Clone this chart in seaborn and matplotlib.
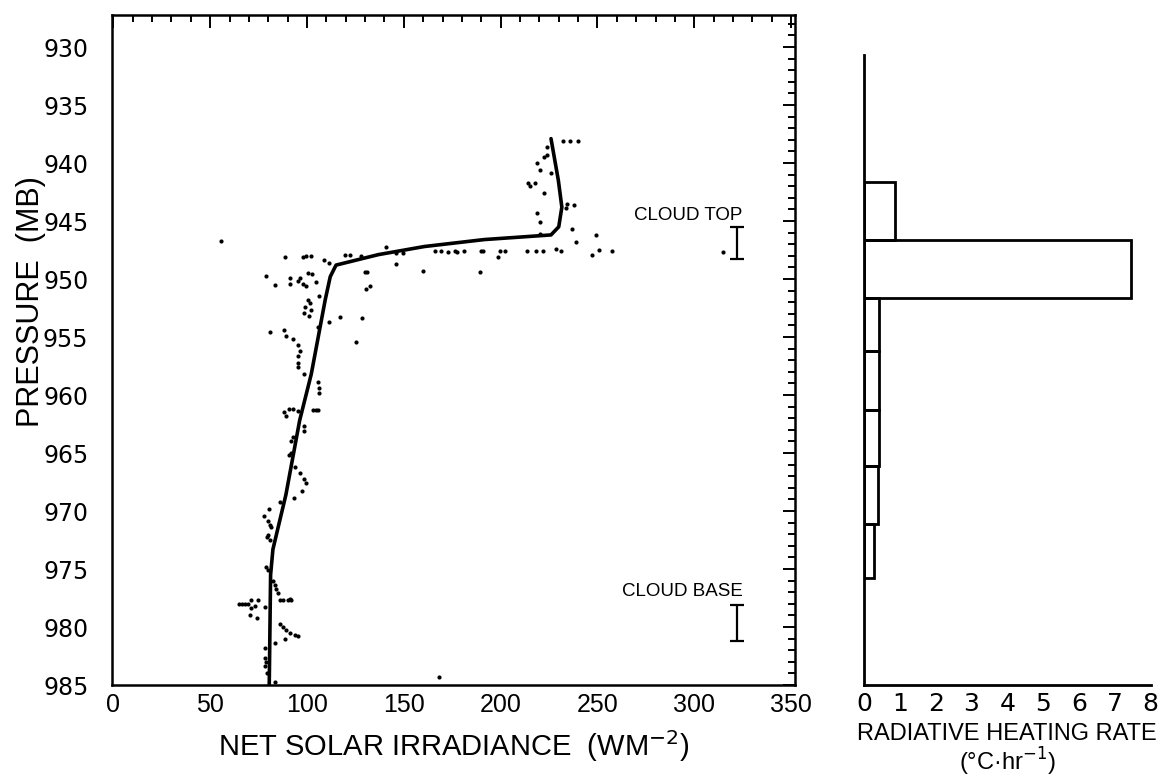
import numpy as np
import pandas as pd
import matplotlib
matplotlib.use("Agg")
import matplotlib.pyplot as plt
from matplotlib.ticker import MultipleLocator
import seaborn as sns

# ---- fitted net solar irradiance profile ----
profile_pressure = [985.0, 975.5, 973.3, 968.6, 962.2, 958.2, 951.8, 949.8, 948.8,
                    947.9, 947.2, 946.6, 946.2, 945.5, 943.8, 941.5, 937.9]
profile_irradiance = [80.5, 81.2, 82.4, 89.1, 96.2, 102.2, 109.4, 112.0, 115.0,
                      136.8, 160.6, 191.5, 226.0, 230.0, 231.6, 229.8, 226.0]

# ---- individual aircraft observations ----
obs_irradiance = [
    232, 236, 240, 223.7, 222.5, 219, 223.7, 226.1, 220.1, 217.8, 214.2, 215.4,
    222.5, 234.4, 238, 234, 219, 220.1, 236.8, 220.1,
    249.4, 239.1, 247.1, 250.6, 257.5, 314.8, 228.7, 231, 221.8, 218.3, 213.7,
    202.2, 199.9, 198.6,
    55.4, 88.8, 97.9, 99.6, 102.2, 108.8, 111.3, 119.8, 122, 128, 140.6, 146.1,
    78.9, 83.3, 91, 91, 96.2, 95.3, 97.9, 99.6, 100.5, 102.7, 104.8, 106, 100.5,
    101.4, 98.8, 102.2, 98.4, 100.9, 117, 128.2, 129.7, 131.1, 130.6, 132.3,
    159.9, 189.2, 189.7, 190.9, 165.9, 169.4, 172.8, 176.2, 177.6, 180.9, 145.8,
    149.6,
    111.3, 105.5, 125.1, 80.9, 88.2, 89.4, 92.8, 95.1, 96.3, 95.1, 95.1, 95.1,
    98.6, 105.5, 106.2, 106.2, 88.2, 90.5, 92.8, 95.1, 89.4, 103.2, 104.5, 105.8,
    98.6, 98.6, 92.8, 91.7, 91.7, 90.5, 94, 96.3, 98.6, 99.7, 97.4, 93.3, 85.9,
    80.2, 77.9,
    79.9, 81, 81.5, 79.9, 79.5, 81, 79, 79.9, 82.4, 83.3, 84.2, 85, 85.9, 87.6,
    90.2, 91, 91.9, 65, 66.5, 68, 69.5, 70.9, 71.3, 73, 74.7, 70.4, 74.3, 78.1,
    85.9, 87.6, 89.3, 91, 93.6, 95.3, 88.8, 83.3, 78.5, 78.1, 79, 78.5, 79.5,
    83.3, 168.1,
]
obs_pressure = [
    938.1, 938.1, 938.1, 938.6, 939.5, 940.0, 939.3, 940.9, 940.6, 941.75, 941.75,
    942.0, 942.6, 943.5, 943.6, 943.9, 944.3, 945.1, 945.7, 946.1,
    946.2, 946.8, 947.9, 947.5, 947.6, 947.7, 947.4, 947.6, 947.6, 947.6, 947.6,
    947.6, 947.6, 948.1,
    946.7, 948.1, 948.1, 948.0, 948.0, 948.4, 948.6, 947.9, 947.9, 948.0, 947.2,
    948.7, 949.7, 950.5, 949.9, 950.4, 949.9, 950.2, 950.4, 950.6, 949.5, 949.6,
    950.3, 951.5, 951.8, 952.1, 952.4, 952.7, 952.9, 953.2, 953.3, 953.4, 949.4,
    949.4, 950.9, 950.6, 949.3, 949.4, 947.6, 947.6, 947.6, 947.6, 947.7, 947.6,
    947.7, 947.6, 947.8, 947.8,
    953.7, 954.1, 955.4, 954.6, 954.4, 954.9, 955.2, 955.7, 956.2, 956.6, 957.2,
    957.6, 958.2, 958.9, 959.4, 959.8, 961.5, 961.2, 961.2, 961.4, 961.8, 961.3,
    961.3, 961.3, 962.7, 963.1, 963.6, 964.0, 965.0, 965.2, 966.2, 966.7, 967.2,
    967.6, 968.3, 968.9, 969.2, 969.8, 970.4,
    970.9, 971.2, 971.4, 972.1, 972.2, 972.5, 974.8, 975.1, 976.0, 976.4, 976.7,
    977.1, 977.7, 977.7, 977.7, 977.6, 977.7, 978.0, 978.0, 978.0, 978.0, 977.7,
    978.4, 978.2, 977.7, 979.0, 979.2, 978.3, 979.7, 980.0, 980.3, 980.5, 980.7,
    980.8, 981.0, 981.4, 981.8, 982.7, 983.0, 983.4, 984.0, 984.7, 984.3,
]

# ---- layer-mean radiative heating rates ----
layer_edges = [941.6, 946.6, 951.6, 956.2, 961.3, 966.1, 971.1, 975.8]
heating_rate = [0.86, 7.45, 0.43, 0.43, 0.42, 0.40, 0.29]

# ---- cloud boundaries (pressure range) ----
cloud_top_range = [945.5, 948.3]
cloud_base_range = [978.1, 981.2]
cloud_marker_x = 322

irradiance_ticks = [0, 50, 100, 150, 200, 250, 300, 350]
pressure_ticks = [930, 935, 940, 945, 950, 955, 960, 965, 970, 975, 980, 985]
heating_ticks = [0, 1, 2, 3, 4, 5, 6, 7, 8]

sns.set_style("white")
narrow = ["Liberation Sans", "DejaVu Sans"]
plt.rcParams["font.family"] = ["DejaVu Sans"]
for key in ("text.color", "axes.labelcolor", "xtick.color", "ytick.color"):
    plt.rcParams[key] = "black"

W, H = 1174, 782
fig = plt.figure(figsize=(W / 100, H / 100), dpi=100)
ax = fig.add_axes([112 / W, 1 - 685 / H, 683 / W, 670 / H])
ax2 = fig.add_axes([864 / W, 1 - 685 / H, 286.7 / W, 670 / H])

obs = pd.DataFrame({"irr": obs_irradiance, "p": obs_pressure})
prof = pd.DataFrame({"irr": profile_irradiance, "p": profile_pressure})

# observations and smooth fit
sns.scatterplot(data=obs, x="irr", y="p", ax=ax, s=9, color="black",
                linewidth=0, marker="o")
sns.lineplot(data=prof, x="irr", y="p", ax=ax, sort=False, estimator=None,
             color="black", linewidth=2.6)

# cloud top / base markers
for rng in (cloud_top_range, cloud_base_range):
    mid = (rng[0] + rng[1]) / 2
    ax.errorbar([cloud_marker_x], [mid], yerr=[[mid - rng[0]], [rng[1] - mid]],
                fmt="none", ecolor="black", elinewidth=1.6, capsize=4.8,
                capthick=1.6)
ax.text(325, 944.5, "CLOUD TOP", ha="right", va="center", fontsize=13.5,
        family=narrow)
ax.text(325, 976.9, "CLOUD BASE", ha="right", va="center", fontsize=13.5,
        family=narrow)

ax.set_xlim(-0.7, 352)
ax.set_ylim(985, 927.24)
ax.set_xticks(irradiance_ticks)
ax.set_yticks(pressure_ticks)
ax.xaxis.set_minor_locator(MultipleLocator(10))
ax.yaxis.set_minor_locator(MultipleLocator(1))
ax.tick_params(which="both", direction="in", top=True, right=True,
               width=1.4, color="black")
ax.tick_params(which="major", length=9)
ax.tick_params(which="minor", length=5)
ax.tick_params(axis="y", which="major", pad=17, labelsize=17)
ax.tick_params(axis="x", which="major", pad=6, labelsize=18)
for lab in ax.get_xticklabels():
    lab.set_family(narrow)
for s in ax.spines.values():
    s.set_linewidth(1.8)
    s.set_color("black")
ax.set_xlabel("NET SOLAR IRRADIANCE  (WM$^{-2}$)", fontsize=21,
              family=narrow, labelpad=8)
ax.set_ylabel("")
fig.text(31 / W, 1 - 302 / H, "PRESSURE  (MB)", rotation=90, ha="center",
         va="center", fontsize=22, family=narrow)

# heating-rate histogram
mids = [(layer_edges[i] + layer_edges[i + 1]) / 2 for i in range(len(heating_rate))]
heat = pd.DataFrame({"p": mids, "rate": heating_rate})
sns.histplot(data=heat, y="p", weights="rate", bins=layer_edges, fill=False,
             element="bars", color="black", linewidth=2, ax=ax2)
ax2.set_xlim(0, 8)
ax2.set_ylim(985, 927.24)
ax2.set_xticks(heating_ticks)
ax2.set_yticks([])
ax2.tick_params(axis="x", direction="in", length=9, width=1.4, pad=5,
                labelsize=18, color="black")
ax2.spines["top"].set_visible(False)
ax2.spines["right"].set_visible(False)
ax2.spines["left"].set_bounds(930.7, 985)
for side in ("left", "bottom"):
    ax2.spines[side].set_linewidth(2)
    ax2.spines[side].set_color("black")
ax2.set_ylabel("")
ax2.set_xlabel("RADIATIVE HEATING RATE\n(°C·hr$^{-1}$)", fontsize=17,
               family=narrow, labelpad=5, linespacing=1.05)

fig.savefig("out.png", dpi=100, facecolor="white")
